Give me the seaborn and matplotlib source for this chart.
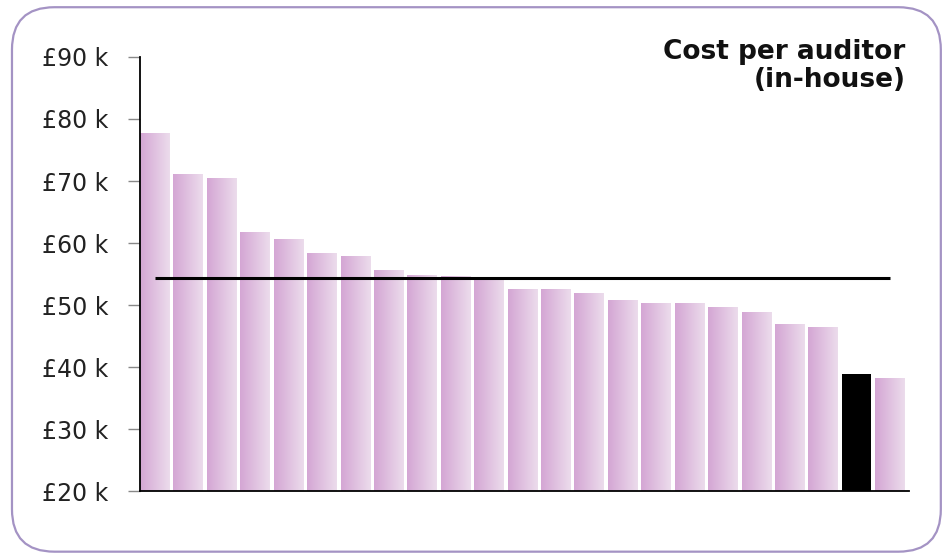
import numpy as np
import pandas as pd
import seaborn as sns
import matplotlib.pyplot as plt
from matplotlib.patches import FancyBboxPatch
from matplotlib.colors import LinearSegmentedColormap

# ------------------------
# Data (cost per auditor, £k)
# ------------------------
AUTHORITIES = [f'A{i + 1}' for i in range(23)]
COST_K = [77.7, 71.1, 70.5, 61.8, 60.6, 58.4, 57.9, 55.6, 54.8, 54.6, 54.3,
          52.6, 52.6, 51.9, 50.8, 50.3, 50.3, 49.7, 48.9, 46.9, 46.5, 38.9, 38.2]
HIGHLIGHT = 'A22'
AVERAGE_K = 54.4
Y_TICKS = [20, 30, 40, 50, 60, 70, 80, 90]
TITLE = 'Cost per auditor\n(in-house)'

BAR_LIGHT = '#ecdcec'
BAR_DARK = '#d4a6d4'

df = pd.DataFrame({'authority': AUTHORITIES, 'cost': COST_K})
palette = {a: ('black' if a == HIGHLIGHT else BAR_DARK) for a in AUTHORITIES}

# ------------------------
# Plotting
# ------------------------
sns.set_style('white')
plt.rcParams['font.family'] = ['DejaVu Sans']

fig = plt.figure(figsize=(9.43, 5.55), dpi=100)
ax = fig.add_axes([0.1485, 0.1153, 0.815, 0.782])

sns.barplot(data=df, x='authority', y='cost', hue='authority', palette=palette,
            legend=False, width=0.88, saturation=1, linewidth=0, ax=ax)

# gradient fill on the purple bars (dark left -> light right)
cmap = LinearSegmentedColormap.from_list('bar', [BAR_DARK, BAR_LIGHT])
grad = np.linspace(0, 1, 64).reshape(1, -1)
for patch, name in zip(ax.patches, AUTHORITIES):
    if name == HIGHLIGHT:
        continue
    x0, y0 = patch.get_x(), patch.get_y()
    x1, y1 = x0 + patch.get_width(), y0 + patch.get_height()
    im = ax.imshow(grad, cmap=cmap, aspect='auto', extent=(x0, x1, 20, y1),
                   zorder=patch.get_zorder() + 0.1, interpolation='bicubic')
    im.set_clip_path(patch)

# average line
ax.hlines(AVERAGE_K, 0, len(AUTHORITIES) - 1, color='black', linewidth=2.2, zorder=5)

# axes
ax.set_ylim(20, 90)
ax.set_xlim(-0.44, len(AUTHORITIES) - 0.44)
ax.set_yticks(Y_TICKS)
ax.set_yticklabels([f'£{v} k' for v in Y_TICKS], fontsize=17, color='#222222')
ax.set_xticks([])
ax.set_xlabel('')
ax.set_ylabel('')
ax.tick_params(axis='y', left=True, length=8.6, width=1, color='#888888', pad=14)
for side in ['top', 'right']:
    ax.spines[side].set_visible(False)
ax.spines['left'].set_color('black')
ax.spines['bottom'].set_color('black')
ax.spines['left'].set_linewidth(1.3)
ax.spines['bottom'].set_linewidth(1.3)
ax.set_autoscale_on(False)

# title
fig.text(0.96, 0.93, TITLE, ha='right', va='top', fontsize=19,
         fontweight='bold', color='#111111', linespacing=1.12)

# rounded frame
frame = FancyBboxPatch((0.0127, 0.006), 0.985, 0.981,
                       boxstyle='round,pad=0,rounding_size=0.045',
                       transform=fig.transFigure, facecolor='none',
                       edgecolor='#a493c4', linewidth=1.6, mutation_aspect=943 / 555)
fig.patches.append(frame)

fig.savefig('out.png', dpi=100)
